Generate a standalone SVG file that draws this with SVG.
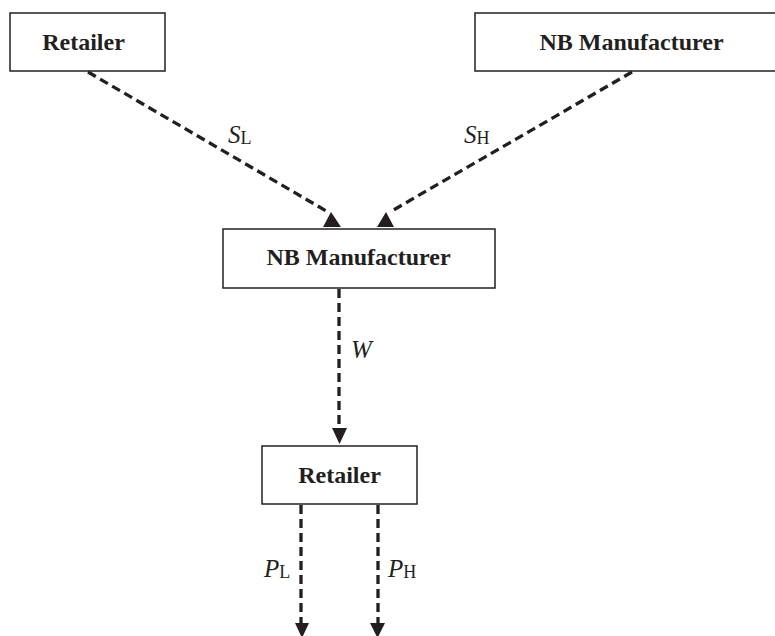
<svg xmlns="http://www.w3.org/2000/svg" width="775" height="636" viewBox="0 0 775 636">
<style>
.box{fill:#fff;stroke:#231f20;stroke-width:1.5}
.nt{font-family:"Liberation Serif","Times New Roman",serif;font-weight:bold;font-size:24px;fill:#231f20;text-anchor:middle}
.lb{font-family:"Liberation Serif","Times New Roman",serif;font-style:italic;font-size:25px;fill:#231f20}
.sub{font-style:normal;font-size:18px}
.cn{stroke:#231f20;stroke-width:3.3;stroke-dasharray:9,5;fill:none}
.ah{fill:#231f20}
</style>
<rect width="775" height="636" fill="#fff"/>
<g id="retailer-top">
<rect class="box" x="10" y="13" width="155" height="58"/>
<text class="nt" x="83.5" y="50">Retailer</text>
</g>
<g id="nb-top">
<rect class="box" x="475" y="13" width="310" height="58"/>
<text class="nt" x="631.5" y="50">NB Manufacturer</text>
</g>
<g id="nb-mid">
<rect class="box" x="223" y="229" width="272" height="59"/>
<text class="nt" x="358.5" y="265">NB Manufacturer</text>
</g>
<g id="retailer-bottom">
<rect class="box" x="262" y="446" width="155" height="58"/>
<text class="nt" x="339.5" y="483">Retailer</text>
</g>
<g id="connectors">
<line class="cn" x1="88" y1="72" x2="328" y2="212"/>
<polygon class="ah" points="331,212 323,227 341,227"/>
<line class="cn" x1="632" y1="72" x2="390" y2="212"/>
<polygon class="ah" points="386,212 377,227 394,227"/>
<line class="cn" x1="339" y1="289" x2="339" y2="428"/>
<polygon class="ah" points="332,428 347,428 339.5,444"/>
<line class="cn" x1="301" y1="505" x2="301" y2="623"/>
<polygon class="ah" points="295,623 309,623 302,638"/>
<line class="cn" x1="378" y1="505" x2="378" y2="623"/>
<polygon class="ah" points="370,623 385,623 377.5,638"/>
<text class="lb" x="228" y="143">S<tspan class="sub" dy="1">L</tspan></text>
<text class="lb" x="464" y="143">S<tspan class="sub" dy="1">H</tspan></text>
<text class="lb" x="351" y="358">W</text>
<text class="lb" x="264" y="577">P<tspan class="sub" dy="1">L</tspan></text>
<text class="lb" x="388" y="577">P<tspan class="sub" dy="1">H</tspan></text>
</g>
</svg>
